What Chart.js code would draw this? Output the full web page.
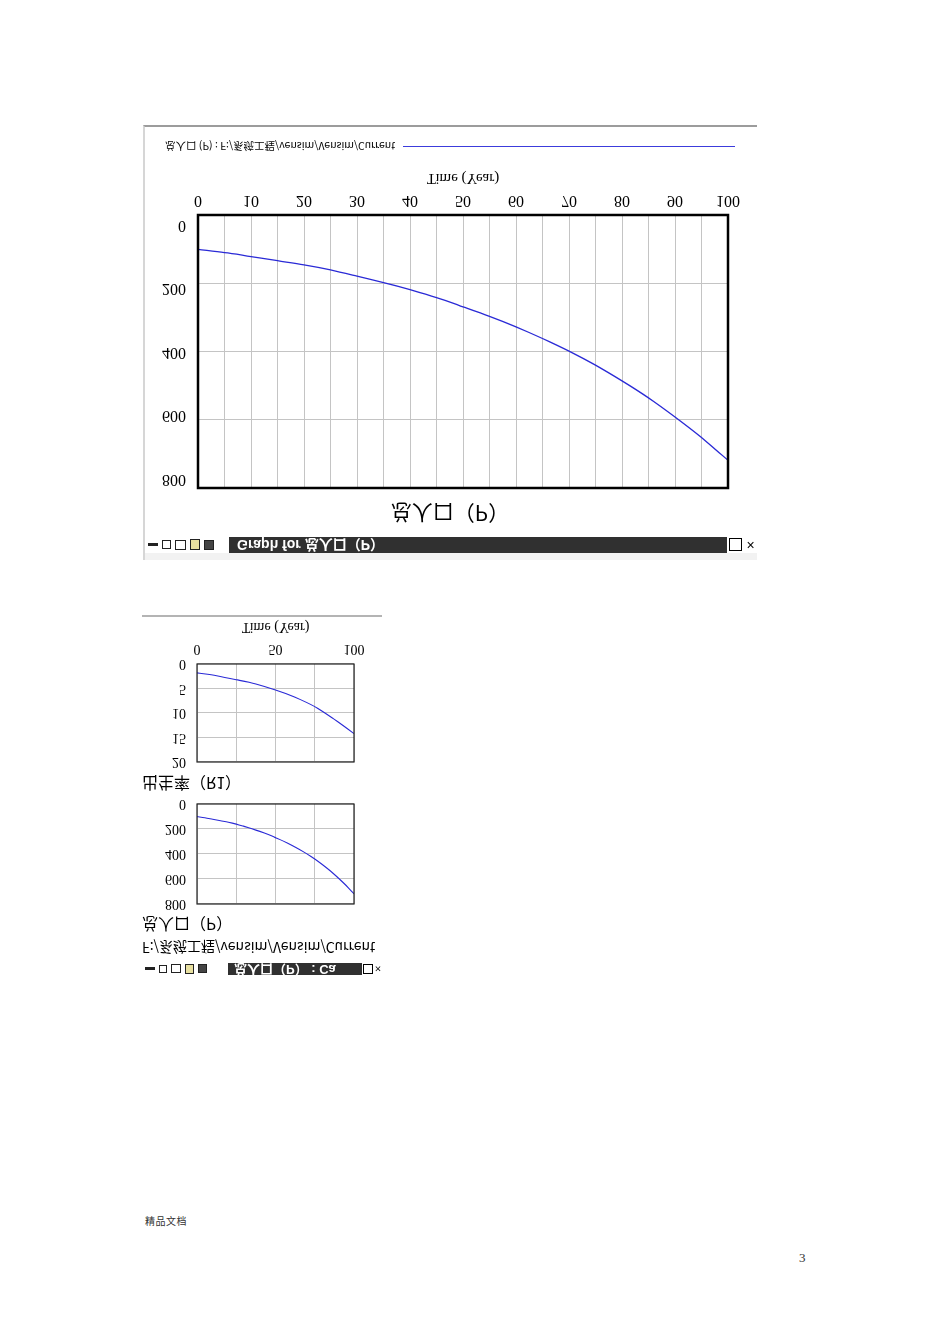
<!DOCTYPE html>
<html>
<head>
<meta charset="utf-8">
<script src="https://cdn.jsdelivr.net/npm/chart.js@4.4.1/dist/chart.umd.min.js"></script>
<style>
  body { margin: 0; background: #fff; }
  #page { position: relative; width: 950px; height: 1344px; overflow: hidden; background: #fff; }
  /* the screenshot is mirrored top-to-bottom, so each window is laid out normally and flipped */
  .win { position: absolute; transform: scaleY(-1); box-sizing: border-box; background: #fff; }
  .win > * { position: absolute; }
  .bar { background: #303030; color: #fff; font-family: "Liberation Sans", "Noto Sans CJK SC", sans-serif; white-space: nowrap; overflow: hidden; }
  .icons { display: flex; align-items: center; gap: 4px; padding-left: 3px; box-sizing: border-box; }
  .icons span { display: inline-block; border: 1px solid #222; box-sizing: border-box; }
  .btns { display: flex; align-items: center; justify-content: space-around; font-family: "Liberation Sans", sans-serif; color: #000; }
  .lbl { font-family: "Noto Sans CJK SC", sans-serif; color: #000; white-space: nowrap; }
  canvas { display: block; }
</style>
</head>
<body>
<div id="page">

  <div class="win" id="win1" style="left:143px; top:125px; width:614px; height:435px; border-bottom:2px solid #9c9c9c; border-left:2px solid #d6d6d6;">
    <div style="left:0; top:0; width:612px; height:7px; background:#f2f2f2;"></div>
    <div class="icons" style="left:0; top:7px; width:84px; height:16px;">
      <span style="width:10px; height:3px; background:#222;"></span>
      <span style="width:9px; height:9px;"></span>
      <span style="width:11px; height:10px;"></span>
      <span style="width:10px; height:11px; background:#e8e0a0;"></span>
      <span style="width:10px; height:10px; background:#444;"></span>
    </div>
    <div class="bar" id="bar1" style="left:84px; top:7px; width:498px; height:16px; line-height:16px; font-size:14px; font-weight:bold; padding-left:8px; box-sizing:border-box;"></div>
    <div class="btns" style="left:582px; top:7px; width:30px; height:16px; font-size:14px;"><span style="display:inline-block; width:11px; height:11px; border:1px solid #000;"></span><span>×</span></div>
    <div class="lbl" id="mainTitle" style="left:-2px; top:33px; width:614px; height:26px; line-height:26px; font-size:21px; text-align:center;"></div>
    <canvas id="mainChart" width="612" height="370" style="left:0; top:30px;"></canvas>
    <div class="lbl" id="legendText" style="left:20px; top:406px; height:16px; line-height:16px; font-size:10.5px;"></div>
    <div style="left:258px; top:413px; width:332px; height:0; border-top:1px solid #3c3cdc;"></div>
  </div>

  <div class="win" id="win2" style="left:142px; top:615px; width:240px; height:360px; border-bottom:2px solid #b4b4b4;">
    <div class="icons" style="left:0; top:0; width:84px; height:12px;">
      <span style="width:10px; height:3px; background:#222;"></span>
      <span style="width:8px; height:8px;"></span>
      <span style="width:10px; height:9px;"></span>
      <span style="width:9px; height:10px; background:#e8e0a0;"></span>
      <span style="width:9px; height:9px; background:#444;"></span>
    </div>
    <div class="bar" id="bar2" style="left:86px; top:0; width:134px; height:12px; line-height:12px; font-size:13px; font-weight:bold; padding-left:6px; box-sizing:border-box;"></div>
    <div class="btns" style="left:220px; top:0; width:20px; height:12px; font-size:11px;"><span style="display:inline-block; width:8px; height:8px; border:1px solid #000;"></span><span>×</span></div>
    <div class="lbl" id="runLabel" style="left:0; top:19px; height:16px; line-height:16px; font-size:14px;"></div>
    <div class="lbl" id="pLabel" style="left:0; top:41px; height:18px; line-height:18px; font-size:16px;"></div>
    <canvas id="popChart" width="240" height="120" style="left:0; top:60px;"></canvas>
    <div class="lbl" id="rLabel" style="left:0; top:182px; height:18px; line-height:18px; font-size:16px;"></div>
    <canvas id="rateChart" width="240" height="158" style="left:0; top:200px;"></canvas>
  </div>

  <div class="lbl" style="position:absolute; left:145px; top:1213px; font-size:10px; letter-spacing:0.5px; color:#333;">精品文档</div>
  <div style="position:absolute; left:799px; top:1250px; font-family:'Liberation Serif', serif; font-size:13px; color:#333;">3</div>
</div>

<script>
// names shown in the graphs
const popName = "总人口（P）";
const rateName = "出生率（R1）";
const runName = "F:/系统工程/vensim/Vensim/Current";
const timeTitle = "Time (Year)";

// total population P, every 5 years
const years = [0, 5, 10, 15, 20, 25, 30, 35, 40, 45, 50, 55, 60, 65, 70, 75, 80, 85, 90, 95, 100];
const population = [101, 110, 122, 134, 146, 161, 179, 198, 219, 242, 269, 297, 328, 362, 399, 440, 486, 536, 592, 652, 719];

// birth rate R1
const rateYears = [0, 12.5, 25, 37.5, 50, 62.5, 75, 87.5, 100];
const birthRate = [1.8, 2.4, 3.2, 4.1, 5.3, 6.8, 8.7, 11.3, 14.2];

// tick labels
const mainXTicks = [0, 10, 20, 30, 40, 50, 60, 70, 80, 90, 100];
const smallXTicks = [0, 50, 100];
const popTicks = [0, 200, 400, 600, 800];
const rateTicks = [0, 5, 10, 15, 20];

const lineColor = "rgb(42, 42, 214)";
const gridColor = "#c4c4c4";
const serif = "'Liberation Serif', serif";

document.getElementById("bar1").textContent = "Graph for " + popName;
document.getElementById("bar2").textContent = popName + " : Ca";
document.getElementById("mainTitle").textContent = popName;
document.getElementById("legendText").textContent = "总人口 (P) : " + runName;
document.getElementById("runLabel").textContent = runName;
document.getElementById("pLabel").textContent = popName;
document.getElementById("rLabel").textContent = rateName;

// Vensim draws a solid box round the plot area
const framePlugin = {
  id: "frame",
  afterDatasetsDraw(chart, args, opts) {
    const { ctx, chartArea: a } = chart;
    ctx.save();
    ctx.strokeStyle = opts.color || "#000";
    ctx.lineWidth = opts.width || 1;
    ctx.strokeRect(a.left, a.top, a.right - a.left, a.bottom - a.top);
    ctx.restore();
  }
};

function toPoints(xs, ys) {
  return xs.map((x, i) => ({ x: x, y: ys[i] }));
}

function lineDataset(xs, ys, width) {
  return {
    data: toPoints(xs, ys),
    borderColor: lineColor,
    borderWidth: width,
    pointRadius: 0,
    cubicInterpolationMode: "monotone",
    yAxisID: "y"
  };
}

// big graph
new Chart(document.getElementById("mainChart"), {
  type: "line",
  data: { datasets: [lineDataset(years, population, 1.3)] },
  plugins: [framePlugin],
  options: {
    animation: false,
    responsive: false,
    events: [],
    layout: { padding: { top: 42, bottom: 0, left: 0, right: 29 } },
    plugins: {
      legend: { display: false },
      tooltip: { enabled: false },
      frame: { width: 2.5, color: "#000" }
    },
    scales: {
      x: {
        type: "linear",
        min: 0,
        max: 100,
        border: { display: false },
        grid: { color: gridColor, drawTicks: false },
        ticks: {
          stepSize: 5,
          autoSkip: false,
          maxRotation: 0,
          padding: 5,
          color: "#000",
          font: { family: serif, size: 16 },
          callback: v => (mainXTicks.includes(v) ? v : "")
        },
        title: {
          display: true,
          text: timeTitle,
          color: "#000",
          font: { family: serif, size: 15 },
          padding: { top: 0, bottom: 9 }
        },
        afterFit: s => { s.height = 55; }
      },
      y: {
        min: 0,
        max: 800,
        border: { display: false },
        grid: { color: gridColor, drawTicks: false },
        ticks: { display: false, stepSize: 200 }
      },
      // labels only: Vensim puts them a little inside the end gridlines
      yl: {
        position: "left",
        min: -31.5,
        max: 828.3,
        border: { display: false },
        grid: { display: false, drawTicks: false },
        ticks: { padding: 12, color: "#000", font: { family: serif, size: 16 } },
        afterBuildTicks: s => { s.ticks = popTicks.map(v => ({ value: v })); },
        afterFit: s => { s.width = 53; }
      }
    }
  }
});

// small stacked graphs; the gap before the y labels is an invisible tick mark,
// so it does not add to the room Chart.js keeps above and below the plot
function smallChart(id, xs, ys, yTicks, yMax, withTime, padTop, padBottom) {
  const xAxis = {
    type: "linear",
    min: 0,
    max: 100,
    border: { display: false },
    grid: { color: gridColor, drawTicks: false },
    ticks: {
      display: withTime,
      stepSize: 25,
      autoSkip: false,
      maxRotation: 0,
      padding: 7,
      color: "#000",
      font: { family: serif, size: 14 },
      callback: v => (smallXTicks.includes(v) ? v : "")
    },
    title: {
      display: withTime,
      text: timeTitle,
      color: "#000",
      font: { family: serif, size: 14 },
      padding: { top: 0, bottom: 1 }
    }
  };
  if (withTime) xAxis.afterFit = s => { s.height = 47; };

  return new Chart(document.getElementById(id), {
    type: "line",
    data: { datasets: [lineDataset(xs, ys, 1.1)] },
    plugins: [framePlugin],
    options: {
      animation: false,
      responsive: false,
      events: [],
      layout: { padding: { top: padTop, bottom: padBottom, left: 0, right: 28 } },
      plugins: {
        legend: { display: false },
        tooltip: { enabled: false },
        frame: { width: 1.2, color: "#222" }
      },
      scales: {
        x: xAxis,
        y: {
          min: 0,
          max: yMax,
          border: { display: false },
          grid: { color: gridColor, drawTicks: true, tickLength: 11, tickColor: "rgba(0,0,0,0)" },
          ticks: { padding: 0, color: "#000", font: { family: serif, size: 14 } },
          afterBuildTicks: s => { s.ticks = yTicks.map(v => ({ value: v })); },
          afterFit: s => { s.width = 55; }
        }
      }
    }
  });
}

smallChart("popChart", years, population, popTicks, 800, false, 11, 9);
smallChart("rateChart", rateYears, birthRate, rateTicks, 20, true, 13, 0);
</script>
</body>
</html>
